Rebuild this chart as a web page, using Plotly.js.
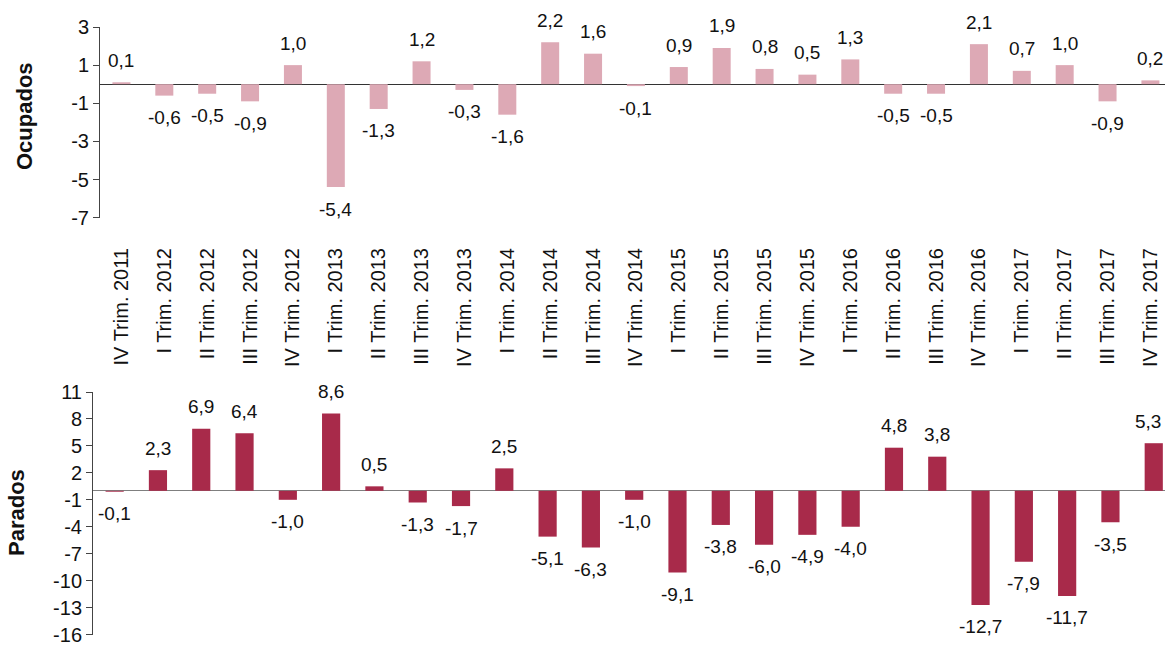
<!DOCTYPE html>
<html>
<head>
<meta charset="utf-8">
<script src="https://cdn.plot.ly/plotly-3.0.1.min.js"></script>
<style>html,body{margin:0;padding:0;background:#fff;}#chart{width:1165px;height:646px;}</style>
</head>
<body>
<div id="chart"></div>
<script>
var categories = ["IV Trim. 2011","I Trim. 2012","II Trim. 2012","III Trim. 2012","IV Trim. 2012",
  "I Trim. 2013","II Trim. 2013","III Trim. 2013","IV Trim. 2013","I Trim. 2014","II Trim. 2014",
  "III Trim. 2014","IV Trim. 2014","I Trim. 2015","II Trim. 2015","III Trim. 2015","IV Trim. 2015",
  "I Trim. 2016","II Trim. 2016","III Trim. 2016","IV Trim. 2016","I Trim. 2017","II Trim. 2017",
  "III Trim. 2017","IV Trim. 2017"];
var ocupados = [0.1,-0.6,-0.5,-0.9,1.0,-5.4,-1.3,1.2,-0.3,-1.6,2.2,1.6,-0.1,0.9,1.9,0.8,0.5,1.3,-0.5,-0.5,2.1,0.7,1.0,-0.9,0.2];
var parados = [-0.1,2.3,6.9,6.4,-1.0,8.6,0.5,-1.3,-1.7,2.5,-5.1,-6.3,-1.0,-9.1,-3.8,-6.0,-4.9,-4.0,4.8,3.8,-12.7,-7.9,-11.7,-3.5,5.3];
var ocupadosTicks = [3,1,-1,-3,-5,-7];
var ocupadosTickText = ["3","1","-1","-3","-5","-7"];
var paradosTicks = [11,8,5,2,-1,-4,-7,-10,-13,-16];
var paradosTickText = ["11","8","5","2","-1","-4","-7","-10","-13","-16"];

var FONT = "Liberation Sans, Arial, sans-serif";
function fmt(v){ return v.toFixed(1).replace('.', ','); }

var traces = [
  {type:'bar', x:categories, y:ocupados, xaxis:'x', yaxis:'y', width:0.42,
   marker:{color:'#DDA9B5'}, hoverinfo:'skip'},
  {type:'bar', x:categories, y:parados, xaxis:'x2', yaxis:'y2', width:0.42,
   marker:{color:'#A82A4A'}, hoverinfo:'skip'}
];

var annotations = [];
ocupados.forEach(function(v,i){
  annotations.push({xref:'x', yref:'y', x:categories[i], y:v, text:fmt(v), showarrow:false,
    yshift: v>=0 ? 22 : -22, yanchor:'middle', font:{family:FONT, size:19, color:'#111'}});
});
parados.forEach(function(v,i){
  annotations.push({xref:'x2', yref:'y2', x:categories[i], y:v, text:fmt(v), showarrow:false,
    yshift: v>=0 ? 22 : -22, xshift: (i === parados.length-1) ? -6 : 0,
    yanchor:'middle', font:{family:FONT, size:19, color:'#111'}});
});
annotations.push({xref:'paper', yref:'paper', x:25/1165, y:(646-116)/646, text:'<b>Ocupados</b>',
  textangle:-90, showarrow:false, xanchor:'center', yanchor:'middle', font:{family:FONT, size:22, color:'#111'}});
annotations.push({xref:'paper', yref:'paper', x:16/1165, y:(646-513)/646, text:'<b>Parados</b>',
  textangle:-90, showarrow:false, xanchor:'center', yanchor:'middle', font:{family:FONT, size:22, color:'#111'}});

var layout = {
  width:1165, height:646,
  margin:{l:0, r:0, t:0, b:0},
  paper_bgcolor:'#fff', plot_bgcolor:'rgba(0,0,0,0)',
  showlegend:false,
  font:{family:FONT, size:19, color:'#111'},
  xaxis:{domain:[100/1165, 1], range:[-0.5, 24.34], type:'category', showgrid:false,
    zeroline:false, showline:false, ticks:'outside', ticklen:21, tickcolor:'rgba(0,0,0,0)',
    tickangle:-90, tickfont:{family:FONT, size:20, color:'#111'}, automargin:false, anchor:'y'},
  yaxis:{domain:[(646-218)/646, (646-27)/646], range:[-7.02, 3], tickmode:'array',
    tickvals:ocupadosTicks, ticktext:ocupadosTickText, showgrid:false,
    zeroline:true, zerolinecolor:'#333', zerolinewidth:1.3, showline:true, linecolor:'#444', linewidth:1,
    ticks:'outside', ticklen:6, tickcolor:'#444', tickfont:{family:FONT, size:20, color:'#111'},
    ticklabeloverflow:'allow', automargin:false, anchor:'x'},
  xaxis2:{domain:[93/1165, 1], range:[-0.5, 24.26], type:'category', showgrid:false,
    zeroline:false, showline:false, showticklabels:false, ticks:'', automargin:false, anchor:'y2'},
  yaxis2:{domain:[11/646, (646-392)/646], range:[-16.05, 11], tickmode:'array',
    tickvals:paradosTicks, ticktext:paradosTickText, showgrid:false,
    zeroline:true, zerolinecolor:'#7f7f7f', zerolinewidth:1.3, showline:true, linecolor:'#444', linewidth:1,
    ticks:'outside', ticklen:6, tickcolor:'#444', tickfont:{family:FONT, size:20, color:'#111'},
    ticklabeloverflow:'allow', automargin:false, anchor:'x2'},
  annotations:annotations
};

Plotly.newPlot('chart', traces, layout, {displayModeBar:false, staticPlot:true});
</script>
</body>
</html>
